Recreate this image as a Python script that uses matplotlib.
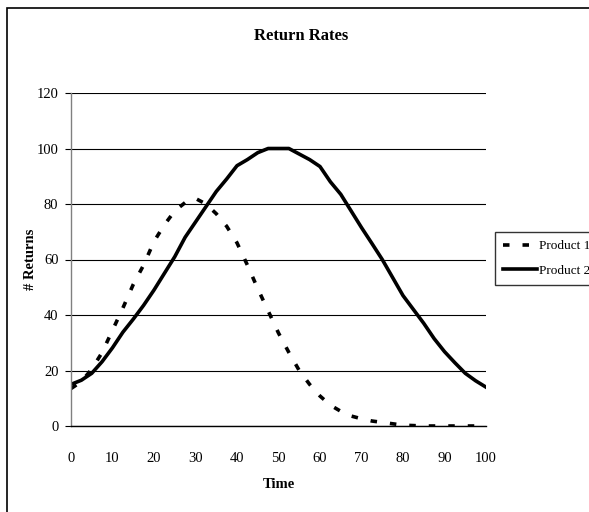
import numpy as np
import matplotlib
matplotlib.use("Agg")
import matplotlib.pyplot as plt
from matplotlib.patches import Rectangle

# Data
time_p1 = [0, 2.5, 5, 7.5, 10, 12.5, 15, 17.5, 20, 22.5, 25, 27.5, 30, 32.5, 35,
           37.5, 40, 42.5, 45, 47.5, 50, 52.5, 55, 57.5, 60, 62.5, 65, 67.5, 70,
           72.5, 75, 77.5, 80, 85, 90, 95, 100]
product1 = [13.5, 16, 20.5, 26.5, 34.5, 42.5, 51, 58, 66.5, 72.5, 77.5, 80.5, 82, 80, 76.5,
            72, 66, 58, 49.5, 41.5, 33.5, 26.5, 20, 15, 10.8, 7.5, 5.3, 3.6, 2.6,
            1.8, 1.3, 0.8, 0.3, 0, 0, 0, 0]

time_p2 = [0, 2.5, 5, 7.5, 10, 12.5, 15, 17.5, 20, 22.5, 25, 27.5, 30, 32.5, 35,
           37.5, 40, 42.5, 45, 47.5, 50, 52.5, 55, 57.5, 60, 62.5, 65, 67.5, 70,
           72.5, 75, 77.5, 80, 82.5, 85, 87.5, 90, 92.5, 95, 97.5, 100]
product2 = [15, 16.5, 19, 23.2, 28.2, 33.8, 38.5, 43.5, 49, 55, 61, 68, 73.5, 79, 84.5,
            89, 93.8, 96, 98.5, 100, 100, 100, 98, 96, 93.5, 88, 83.5, 77.5, 71.5,
            65.8, 60, 53.5, 47, 42, 37, 31.5, 26.8, 22.8, 19, 16.3, 14]

x_ticks = list(range(0, 101, 10))
y_ticks = list(range(0, 121, 20))

plt.rcParams['font.family'] = ['Liberation Serif', 'DejaVu Serif']

fig = plt.figure(figsize=(5.89, 5.12), dpi=100)
ax = fig.add_axes([71 / 589, 86 / 512, 415 / 589, 333 / 512])

# outer chart frame (runs off the right and bottom edge)
fig.patches.append(Rectangle((7 / 589, -0.1), 1.5, 1.1 - 8 / 512,
                             transform=fig.transFigure, fill=False,
                             edgecolor='black', linewidth=1.2))

ax.plot(time_p1, product1, color='black', linewidth=2.6,
        linestyle=(0, (1.8, 3.6)), dash_capstyle='butt', label='Product 1')
ax.plot(time_p2, product2, color='black', linewidth=2.6, label='Product 2')

ax.set_xlim(0, 100)
ax.set_ylim(0, 120)
ax.set_xticks(x_ticks)
ax.set_yticks(y_ticks)
ax.yaxis.grid(True, color='black', linewidth=0.8)
ax.set_axisbelow(True)
for s in ['top', 'right']:
    ax.spines[s].set_visible(False)
ax.spines['left'].set_color('#808080')
ax.spines['left'].set_linewidth(1.0)
ax.spines['bottom'].set_linewidth(1.0)
ax.tick_params(axis='x', length=0, pad=19, labelsize=10.5)
ax.tick_params(axis='y', length=4, width=0.8, pad=5, labelsize=10.5)

ax.set_xlabel('Time', fontsize=10.5, fontweight='bold', va='center')
ax.xaxis.set_label_coords(0.5, -59 / 333)
ax.set_ylabel('# Returns', fontsize=10.5, fontweight='bold', va='center')
ax.yaxis.set_label_coords(-40 / 415, 0.5)
fig.text(0.511, 0.93, 'Return Rates', ha='center', va='center',
         fontsize=12, fontweight='bold')

leg = ax.legend(loc='upper left', bbox_to_anchor=(495 / 589, 1 - 232 / 512),
                bbox_transform=fig.transFigure, frameon=True, fancybox=False,
                edgecolor='black', fontsize=9.5, handlelength=2.6,
                handletextpad=0.1, borderpad=0.6, borderaxespad=0,
                labelspacing=0.95)
leg.get_frame().set_linewidth(1.0)

fig.savefig('out.png', dpi=100)
